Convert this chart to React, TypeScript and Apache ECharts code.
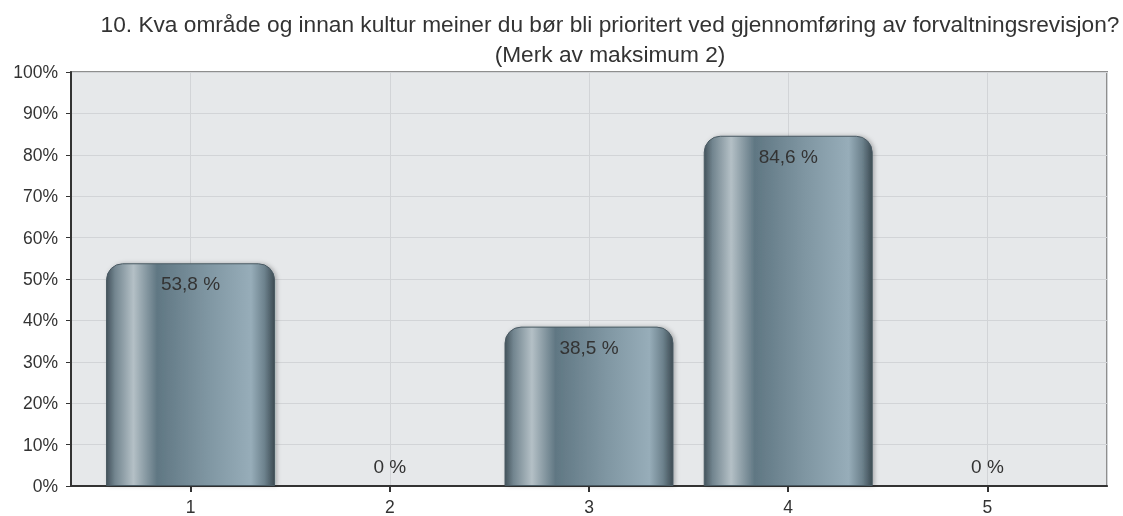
import React, { useEffect, useRef } from "react";
import * as echarts from "echarts";

const titleLines = [
  "10. Kva område og innan kultur meiner du bør bli prioritert ved gjennomføring av forvaltningsrevisjon?",
  "(Merk av maksimum 2)",
];
const categories = [1, 2, 3, 4, 5];
const values = [53.8, 0, 38.5, 84.6, 0];
const valueLabels = ["53,8 %", "0 %", "38,5 %", "84,6 %", "0 %"];

export default function App() {
  const ref = useRef<HTMLDivElement>(null);
  useEffect(() => {
    document.body.style.margin = "0";
    const chart = echarts.init(ref.current!, undefined, { renderer: "svg" });
    const barGrad = new echarts.graphic.LinearGradient(0, 0, 1, 0, [
      { offset: 0, color: "#44535c" },
      { offset: 0.05, color: "#72858f" },
      { offset: 0.16, color: "#b4c0c6" },
      { offset: 0.3, color: "#607783" },
      { offset: 0.6, color: "#7f96a2" },
      { offset: 0.86, color: "#97adb9" },
      { offset: 0.94, color: "#6d828d" },
      { offset: 1, color: "#3d4b53" },
    ]);
    const font = "'Liberation Sans', Arial, sans-serif";
    chart.setOption({
      animation: false,
      title: {
        text: titleLines.join("\n"),
        left: 605,
        textAlign: "center",
        top: 4,
        textStyle: {
          fontFamily: font,
          fontSize: 22.7,
          fontWeight: "normal",
          color: "#333",
          lineHeight: 30,
        },
      },
      grid: {
        left: 71,
        right: 16,
        top: 72,
        bottom: 29,
        show: true,
        backgroundColor: "#e6e8ea",
        borderColor: "#8e8e8e",
        borderWidth: 2,
      },
      xAxis: {
        type: "value",
        min: 0.4,
        max: 5.6,
        axisLine: { show: true, lineStyle: { color: "#333", width: 2 } },
        axisTick: { show: true, length: 6, lineStyle: { color: "#333", width: 2 } },
        axisLabel: {
          showMinLabel: false,
          showMaxLabel: false,
          fontFamily: font,
          fontSize: 17.5,
          color: "#333",
          margin: 12,
          formatter: (v: number) =>
            categories.indexOf(v) >= 0 ? String(v) : "",
        },
        splitLine: { show: true, lineStyle: { color: "#d2d4d7", width: 1 } },
      },
      yAxis: {
        type: "value",
        min: 0,
        max: 100,
        interval: 10,
        axisLine: { show: true, lineStyle: { color: "#333", width: 2 } },
        axisTick: { show: true, length: 5, lineStyle: { color: "#333" } },
        axisLabel: {
          fontFamily: font,
          fontSize: 17.5,
          color: "#333",
          margin: 13,
          formatter: "{value}%",
        },
        splitLine: { show: true, lineStyle: { color: "#d2d4d7", width: 1 } },
      },
      series: [
        {
          type: "bar",
          barWidth: 169,
          data: categories.map((c, i) => ({
            value: [c, values[i]],
            label: {
              show: true,
              position: values[i] > 0 ? "insideTop" : "top",
              distance: values[i] > 0 ? 11 : 10,
              formatter: valueLabels[i],
              fontFamily: font,
              fontSize: 19,
              color: "#333",
            },
          })),
          itemStyle: {
            color: barGrad,
            borderRadius: [16, 16, 0, 0],
            borderColor: "#4a5a63",
            borderWidth: 1,
            shadowColor: "rgba(0,0,0,0.25)",
            shadowBlur: 4,
            shadowOffsetX: 2,
          },
        },
      ],
    });
    return () => chart.dispose();
  }, []);
  return (
    <div
      ref={ref}
      style={{ position: "fixed", left: 0, top: 0, width: 1123, height: 516 }}
    />
  );
}
